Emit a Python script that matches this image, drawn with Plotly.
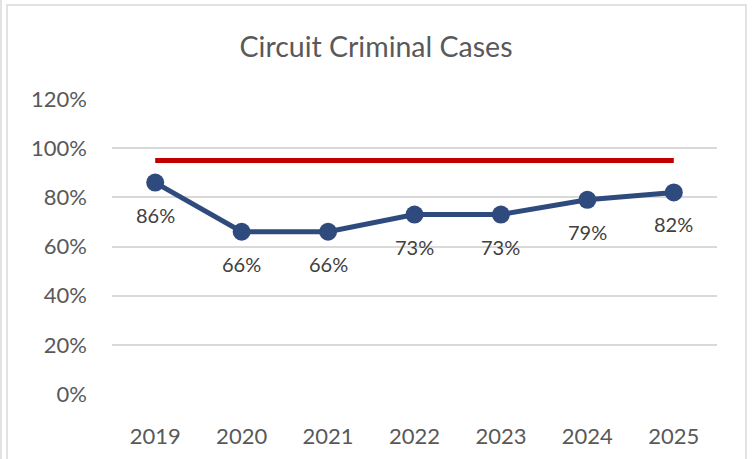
import plotly.graph_objects as go

years = ["2019", "2020", "2021", "2022", "2023", "2024", "2025"]
rates = [86, 66, 66, 73, 73, 79, 82]
target = [95, 95, 95, 95, 95, 95, 95]
y_ticks = [0, 20, 40, 60, 80, 100, 120]
y_tick_labels = ["0%", "20%", "40%", "60%", "80%", "100%", "120%"]

W, H = 752, 459
L, R, T, B = 112, 35, 99, 65
FONT = "Lato"
GREY = "#595959"

fig = go.Figure()
fig.add_trace(go.Scatter(
    x=years, y=target, mode="lines",
    line=dict(color="#C00000", width=5),
    hoverinfo="skip", showlegend=False,
))
fig.add_trace(go.Scatter(
    x=years, y=rates, mode="lines+markers",
    line=dict(color="#2F4A7C", width=5),
    marker=dict(size=18, color="#2F4A7C"),
    showlegend=False,
))
for i, v in enumerate(rates):
    fig.add_annotation(x=i, y=v, xref="x", yref="y", text=f"{v}%", showarrow=False,
                       yshift=-32, font=dict(family=FONT, size=20, color="#404040"))

def px_x(p):
    return (p - L) / (W - L - R)

def px_y(p):
    return (H - B - p) / (H - T - B)

shapes = [
    dict(type="rect", xref="paper", yref="paper",
         x0=px_x(7), x1=px_x(746), y0=px_y(470), y1=px_y(5),
         line=dict(color="#D9D9D9", width=1.5), fillcolor="rgba(0,0,0,0)", layer="below"),
    dict(type="line", xref="paper", yref="paper",
         x0=px_x(1), x1=px_x(1), y0=px_y(470), y1=px_y(0),
         line=dict(color="#D9D9D9", width=1.5)),
]

fig.update_layout(
    width=W, height=H,
    margin=dict(l=L, r=R, t=T, b=B, autoexpand=False),
    paper_bgcolor="white", plot_bgcolor="white",
    title=dict(text="Circuit Criminal Cases", x=0.5, xref="container", xanchor="center",
               y=1 - 47 / H, yanchor="middle",
               font=dict(family=FONT, size=28.5, color=GREY)),
    xaxis=dict(type="category", showgrid=False, zeroline=False, showline=False,
               range=[-0.5, len(years) - 0.5],
               tickfont=dict(family=FONT, size=22, color=GREY), ticks="",
               ticklabelstandoff=27, automargin=False),
    yaxis=dict(range=[0, 120], tickvals=y_ticks, ticktext=y_tick_labels,
               showgrid=True, gridcolor="#D9D9D9", gridwidth=1.5,
               zeroline=False, showline=False, ticks="",
               tickfont=dict(family=FONT, size=22, color=GREY),
               ticklabelstandoff=24, automargin=False),
    shapes=shapes,
    font=dict(family=FONT),
)
fig.write_html("out.html", config={"displayModeBar": False},
               post_script="document.body.style.margin='0';")
